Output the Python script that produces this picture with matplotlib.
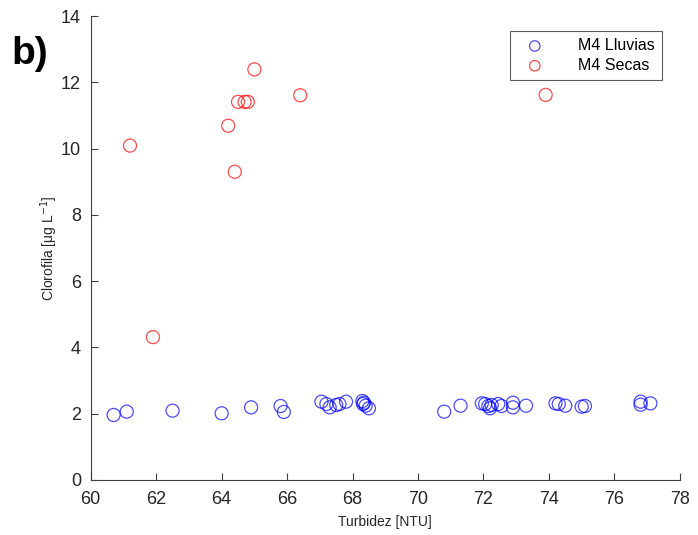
import matplotlib.pyplot as plt

plt.rcParams["font.family"] = ["Liberation Sans", "DejaVu Sans"]

AXIS_COLOR = "0.25"

# M4 Lluvias (blue)
lluvias_x = [60.7, 61.1, 62.5, 64.0, 64.9, 65.8, 65.9,
             67.05, 67.2, 67.3, 67.5, 67.6, 67.8,
             68.3, 68.32, 68.35, 68.4, 68.5,
             70.8, 71.3,
             71.95, 72.05, 72.15, 72.2, 72.25, 72.45, 72.55, 72.9, 72.9, 73.3,
             74.2, 74.3, 74.5, 75.0, 75.1,
             76.8, 76.8, 77.1]
lluvias_y = [1.96, 2.06, 2.09, 2.01, 2.19, 2.23, 2.05,
             2.36, 2.29, 2.19, 2.26, 2.29, 2.36,
             2.38, 2.29, 2.33, 2.24, 2.16,
             2.06, 2.24,
             2.31, 2.29, 2.23, 2.16, 2.26, 2.29, 2.23, 2.33, 2.19, 2.24,
             2.31, 2.29, 2.24, 2.21, 2.23,
             2.36, 2.27, 2.31]

# M4 Secas (red)
secas_x = [61.2, 61.9, 64.2, 64.4, 64.5, 64.7, 64.8, 65.0, 66.4, 73.9]
secas_y = [10.09, 4.31, 10.69, 9.30, 11.41, 11.41, 11.41, 12.39, 11.61, 11.62]

fig = plt.figure(figsize=(6.98, 5.35), dpi=100)
ax = fig.add_axes([0.130, 0.103, 0.844, 0.867])

ax.scatter(lluvias_x, lluvias_y, s=88, facecolors="none", edgecolors="blue",
           linewidths=0.9, alpha=0.7, label="M4 Lluvias")
ax.scatter(secas_x, secas_y, s=88, facecolors="none", edgecolors="red",
           linewidths=0.9, alpha=0.7, label="M4 Secas")

ax.set_xlim(60, 78)
ax.set_ylim(0, 14)
ax.set_xticks(range(60, 79, 2))
ax.set_yticks(range(0, 15, 2))

ax.spines["top"].set_visible(False)
ax.spines["right"].set_visible(False)
for side in ("left", "bottom"):
    ax.spines[side].set_color(AXIS_COLOR)
ax.tick_params(direction="in", length=5, width=0.8, colors=AXIS_COLOR,
               labelsize=13, labelcolor="0.15")
ax.tick_params(axis="y", pad=7)
ax.tick_params(axis="x", pad=8)

ax.set_xlabel("Turbidez [NTU]", fontsize=10, color="0.15", labelpad=5)
ax.set_ylabel("Clorofila [μg L$^{-1}$]", fontsize=10, color="0.15", labelpad=1)

leg = ax.legend(loc="upper right", bbox_to_anchor=(0.983, 0.985), fontsize=11.5,
                frameon=True, fancybox=False, edgecolor="0.2", borderpad=0.45,
                handletextpad=1.6, handlelength=2.2, markerscale=0.8,
                labelspacing=0.3)
leg.get_frame().set_linewidth(0.8)

fig.text(0.016, 0.88, "b)", fontsize=28, fontweight="bold")

fig.savefig("out.png", dpi=100)
